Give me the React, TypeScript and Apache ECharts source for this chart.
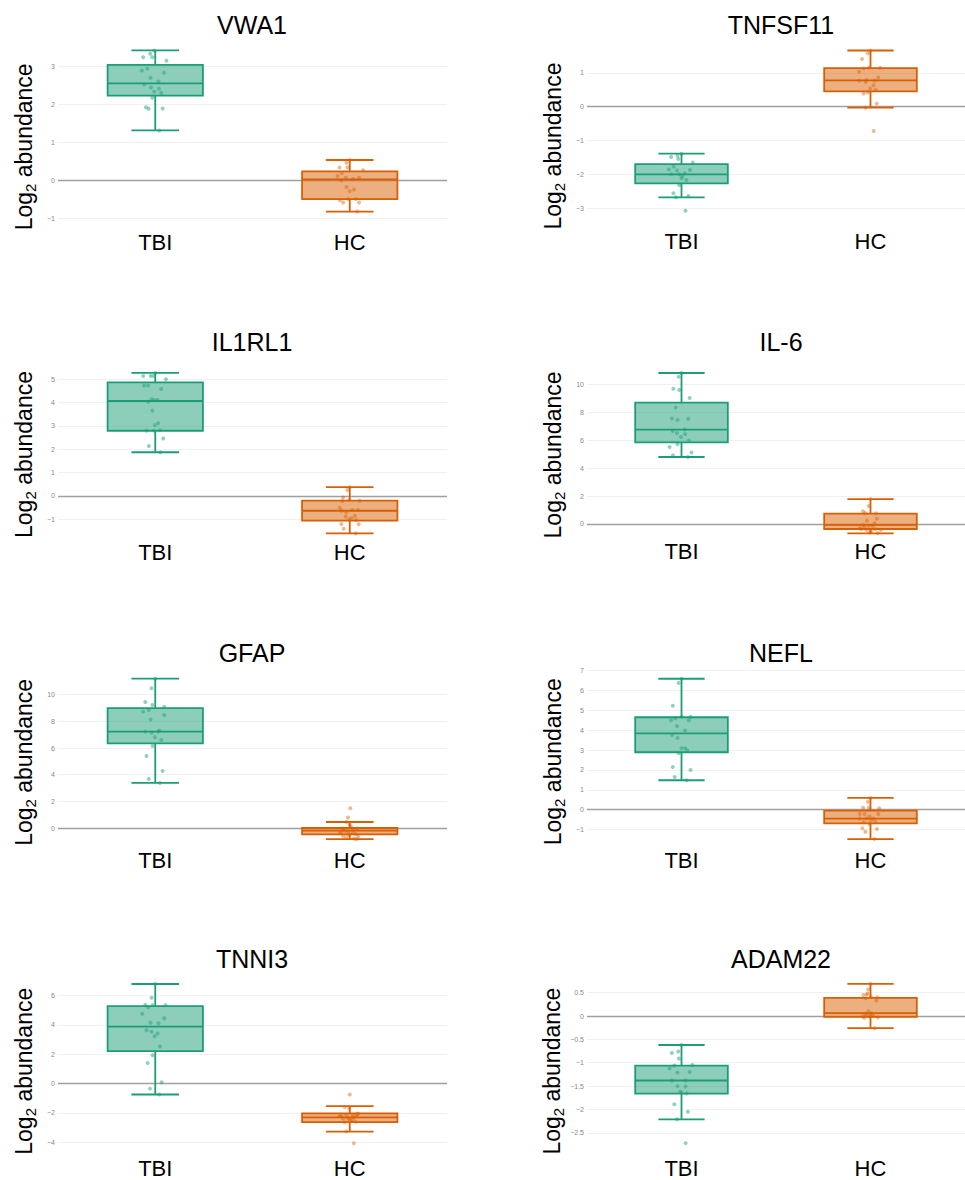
import React, { useEffect, useRef } from 'react';
import * as echarts from 'echarts';

const GROUPS = ['TBI', 'HC'];
const GENES = ['VWA1', 'TNFSF11', 'IL1RL1', 'IL-6', 'GFAP', 'NEFL', 'TNNI3', 'ADAM22'];

// ---- VWA1 ----
const VWA1_TBI = [3.24, 3.33, 3.24, 3.42, 3.15, 2.89, 2.94, 2.83, 2.7, 2.6, 2.52, 2.44, 2.41, 2.33, 2.3, 2.17, 1.92, 1.88, 1.89, 1.31];
const VWA1_TBI_JIT = [-0.062, -0.026, -0.015, -0.005, 0.058, -0.069, -0.041, 0.045, -0.024, 0.017, -0.057, -0.022, 0.019, -0.005, 0.031, -0.015, -0.048, -0.034, 0.038, 0.021];
const VWA1_HC = [0.53, 0.46, 0.33, 0.33, 0.26, 0.19, 0.11, 0.06, 0.03, 0.06, -0.01, -0.18, -0.25, -0.29, -0.53, -0.59, -0.5, -0.5, -0.59, -0.83];
const VWA1_HC_JIT = [0, -0.017, -0.053, -0.012, 0.069, -0.041, -0.063, -0.021, 0.017, 0.048, -0.043, -0.017, 0.022, 0, -0.051, -0.034, -0.009, 0.031, 0.048, 0.038];
const VWA1_TBI_BOX = [1.31, 2.23, 2.55, 3.04, 3.42];
const VWA1_HC_BOX = [-0.83, -0.5, 0.02, 0.23, 0.53];

// ---- TNFSF11 ----
const TNFSF11_TBI = [-1.49, -1.45, -1.55, -1.39, -1.65, -1.77, -1.86, -1.89, -1.87, -2.0, -2.0, -1.97, -2.12, -2.17, -2.32, -2.56, -2.68, -2.64, -3.08, -2.05];
const TNFSF11_TBI_JIT = [-0.055, -0.021, -0.017, 0, 0.06, -0.041, -0.067, -0.024, 0.045, -0.053, -0.012, 0.017, 0, 0.026, -0.012, -0.043, -0.029, 0.036, 0.021, 0.005];
const TNFSF11_HC = [1.58, 1.66, 1.41, 1.03, 1.13, 1.15, 1.15, 0.77, 0.79, 0.73, 0.86, 0.77, 0.63, 0.54, 0.49, 0.39, 0.42, 0.09, -0.03, -0.72];
const TNFSF11_HC_JIT = [-0.014, 0, -0.045, -0.06, -0.036, -0.01, 0.051, -0.06, -0.022, -0.026, 0.041, 0.021, 0.017, -0.002, 0.026, -0.036, -0.014, 0.033, -0.026, 0.017];
const TNFSF11_TBI_BOX = [-2.68, -2.27, -2.0, -1.7, -1.39];
const TNFSF11_HC_BOX = [-0.03, 0.45, 0.78, 1.14, 1.66];

// ---- IL1RL1 ----
const IL1RL1_TBI = [5.13, 5.13, 5.13, 5.26, 4.99, 4.72, 4.72, 4.57, 4.14, 4.03, 4.1, 4.1, 3.65, 3.03, 3.11, 2.79, 2.79, 2.81, 2.46, 2.14, 1.87];
const IL1RL1_TBI_JIT = [-0.062, -0.024, -0.01, 0, 0.055, -0.057, -0.036, 0.031, -0.019, -0.036, -0.005, 0.012, -0.015, -0.002, 0.015, -0.045, -0.007, 0.024, 0.041, -0.033, 0.027];
const IL1RL1_HC = [0.38, 0.26, -0.06, -0.21, -0.17, -0.2, -0.5, -0.63, -0.7, -0.6, -0.6, -0.88, -0.85, -1.0, -1.03, -0.95, -1.2, -1.21, -1.4, -1.6];
const IL1RL1_HC_JIT = [0, -0.012, -0.034, -0.038, -0.003, 0.051, -0.051, -0.043, -0.017, 0.014, 0.043, -0.021, 0.026, -0.003, 0.034, 0.009, -0.043, 0.046, -0.031, 0.031];
const IL1RL1_TBI_BOX = [1.87, 2.79, 4.06, 4.86, 5.26];
const IL1RL1_HC_BOX = [-1.6, -1.05, -0.63, -0.2, 0.38];

// ---- IL-6 ----
const IL6_TBI = [10.84, 10.57, 9.71, 9.62, 9.04, 8.37, 7.58, 7.46, 7.56, 6.79, 6.67, 6.51, 6.46, 6.24, 6.0, 5.72, 5.53, 5.14, 4.93, 4.81];
const IL6_TBI_JIT = [0, -0.015, -0.043, -0.012, 0.043, -0.031, -0.051, -0.021, 0.036, 0.017, -0.046, -0.024, 0.019, -0.003, 0.039, -0.021, -0.063, 0.053, -0.045, 0.034];
const IL6_HC = [1.79, 1.29, 0.91, 0.77, 0.77, 0.24, 0.38, -0.07, -0.12, -0.14, -0.38, -0.43, -0.48, -0.38, -0.43, -0.67, -0.62, -0.24, 0.05, -0.31];
const IL6_HC_JIT = [0, -0.009, -0.039, -0.027, 0.029, -0.019, 0.034, -0.039, -0.009, 0.012, -0.048, -0.022, 0.003, 0.026, 0.055, 0.038, -0.005, -0.031, 0.021, -0.057];
const IL6_TBI_BOX = [4.81, 5.86, 6.77, 8.71, 10.84];
const IL6_HC_BOX = [-0.67, -0.36, -0.07, 0.74, 1.79];

// ---- GFAP ----
const GFAP_TBI = [11.2, 10.48, 9.45, 9.23, 9.1, 8.73, 8.85, 8.48, 8.13, 7.23, 7.15, 7.23, 7.3, 6.8, 6.6, 6.15, 5.4, 4.28, 3.68, 3.38];
const GFAP_TBI_JIT = [0, -0.019, -0.051, -0.015, 0.046, -0.062, -0.033, 0.046, -0.024, -0.051, -0.019, 0.015, 0.021, -0.002, 0.031, -0.014, -0.045, 0.038, -0.033, 0.024];
const GFAP_HC = [1.48, 0.78, 0.45, 0.23, -0.03, -0.1, -0.03, -0.2, -0.28, -0.35, -0.4, -0.45, -0.6, -0.53, -0.65, -0.7, -0.78, -0.85, -0.3, 0.05];
const GFAP_HC_JIT = [0.003, -0.009, -0.017, 0, -0.038, 0.017, 0.038, -0.026, -0.009, 0.014, -0.051, 0.031, -0.034, -0.003, 0.043, -0.017, 0.021, 0.034, -0.043, 0.009];
const GFAP_TBI_BOX = [3.38, 6.35, 7.23, 9.0, 11.2];
const GFAP_HC_BOX = [-0.83, -0.48, -0.2, 0.0, 0.45];

// ---- NEFL ----
const NEFL_TBI = [6.59, 6.38, 5.23, 4.5, 4.6, 4.68, 4.5, 4.68, 4.21, 3.98, 3.76, 3.61, 3.09, 3.09, 2.99, 2.84, 2.15, 2.0, 1.64, 1.48];
const NEFL_TBI_JIT = [0, -0.015, -0.046, -0.055, -0.033, 0.002, 0.039, 0.048, -0.024, 0.019, -0.05, -0.021, 0, 0.019, 0.031, -0.015, -0.046, 0.048, -0.036, 0.027];
const NEFL_HC = [0.59, 0.39, 0.1, 0.1, 0.07, -0.22, -0.22, -0.22, -0.35, -0.45, -0.45, -0.45, -0.55, -0.64, -0.62, -0.72, -0.94, -1.11, -0.97, -1.48];
const NEFL_HC_JIT = [0, -0.014, -0.039, -0.009, 0.046, -0.057, -0.031, 0.041, -0.005, -0.057, -0.022, 0.015, 0.003, -0.036, 0.026, -0.005, -0.043, -0.027, 0.034, 0.021];
const NEFL_TBI_BOX = [1.48, 2.89, 3.84, 4.65, 6.59];
const NEFL_HC_BOX = [-1.48, -0.69, -0.45, -0.05, 0.59];

// ---- TNNI3 ----
const TNNI3_TBI = [6.79, 5.85, 5.37, 5.21, 5.35, 5.35, 4.76, 4.45, 4.15, 4.11, 3.63, 3.54, 3.41, 3.23, 2.53, 1.94, 1.4, 0.09, -0.34, -0.74];
const TNNI3_TBI_JIT = [0, -0.019, -0.051, -0.036, -0.014, 0.053, -0.067, 0.046, -0.024, 0.017, -0.045, -0.019, 0.012, -0.003, 0.024, -0.014, -0.039, 0.033, -0.027, 0.021];
const TNNI3_HC = [-0.74, -1.6, -1.69, -2.08, -2.19, -2.14, -2.14, -2.03, -2.37, -2.32, -2.3, -2.6, -2.64, -2.53, -3.27, -4.06, -2.42, -2.23, -2.46, -2.23];
const TNNI3_HC_JIT = [0, -0.026, -0.003, 0.038, -0.051, -0.017, 0.014, 0.043, -0.034, -0.009, 0.021, 0.031, -0.026, 0.003, -0.017, 0.021, -0.003, -0.043, 0.014, 0.034];
const TNNI3_TBI_BOX = [-0.74, 2.21, 3.88, 5.28, 6.79];
const TNNI3_HC_BOX = [-3.27, -2.62, -2.3, -2.03, -1.53];

// ---- ADAM22 ----
const ADAM22_TBI = [-0.62, -0.79, -0.76, -0.91, -1.06, -1.05, -1.12, -1.21, -1.2, -1.38, -1.38, -1.5, -1.51, -1.64, -1.66, -1.89, -2.05, -2.21, -2.72, -1.62];
const ADAM22_TBI_JIT = [0, -0.051, -0.017, -0.014, -0.038, 0.057, -0.063, -0.021, 0.043, -0.051, 0.021, -0.021, 0.021, 0, 0.027, -0.038, 0.034, -0.024, 0.022, -0.007];
const ADAM22_HC = [0.69, 0.57, 0.45, 0.46, 0.42, 0.4, 0.33, 0.38, 0.1, 0.05, 0.06, -0.01, 0.01, 0.01, -0.03, -0.04, -0.02, -0.26, 0.04, 0.48];
const ADAM22_HC_JIT = [0, -0.012, -0.038, -0.021, 0.002, 0.036, 0.031, -0.026, -0.012, -0.029, 0.005, -0.041, -0.021, 0.014, 0.039, -0.033, -0.003, 0.022, -0.003, -0.015];
const ADAM22_TBI_BOX = [-2.21, -1.66, -1.38, -1.06, -0.62];
const ADAM22_HC_BOX = [-0.26, -0.02, 0.06, 0.39, 0.69];

// ---- y tick values per panel ----
const VWA1_TICKS = [-1, 0, 1, 2, 3];
const TNFSF11_TICKS = [-3, -2, -1, 0, 1];
const IL1RL1_TICKS = [-1, 0, 1, 2, 3, 4, 5];
const IL6_TICKS = [0, 2, 4, 6, 8, 10];
const GFAP_TICKS = [0, 2, 4, 6, 8, 10];
const NEFL_TICKS = [-1, 0, 1, 2, 3, 4, 5, 6, 7];
const TNNI3_TICKS = [-4, -2, 0, 2, 4, 6];
const ADAM22_TICKS = [-2.5, -2, -1.5, -1, -0.5, 0, 0.5];

// ---- y axis ranges per panel ----
const VWA1_RANGE = [-1.21, 3.65];
const TNFSF11_RANGE = [-3.52, 1.9];
const IL1RL1_RANGE = [-1.71, 5.6];
const IL6_RANGE = [-0.84, 11.4];
const GFAP_RANGE = [-1.2, 11.8];
const NEFL_RANGE = [-1.73, 7.05];
const TNNI3_RANGE = [-4.66, 7.3];
const ADAM22_RANGE = [-2.91, 0.85];

const PANELS = [
  { tbi: VWA1_TBI, tbiJit: VWA1_TBI_JIT, hc: VWA1_HC, hcJit: VWA1_HC_JIT, tbiBox: VWA1_TBI_BOX, hcBox: VWA1_HC_BOX, ticks: VWA1_TICKS, range: VWA1_RANGE },
  { tbi: TNFSF11_TBI, tbiJit: TNFSF11_TBI_JIT, hc: TNFSF11_HC, hcJit: TNFSF11_HC_JIT, tbiBox: TNFSF11_TBI_BOX, hcBox: TNFSF11_HC_BOX, ticks: TNFSF11_TICKS, range: TNFSF11_RANGE },
  { tbi: IL1RL1_TBI, tbiJit: IL1RL1_TBI_JIT, hc: IL1RL1_HC, hcJit: IL1RL1_HC_JIT, tbiBox: IL1RL1_TBI_BOX, hcBox: IL1RL1_HC_BOX, ticks: IL1RL1_TICKS, range: IL1RL1_RANGE },
  { tbi: IL6_TBI, tbiJit: IL6_TBI_JIT, hc: IL6_HC, hcJit: IL6_HC_JIT, tbiBox: IL6_TBI_BOX, hcBox: IL6_HC_BOX, ticks: IL6_TICKS, range: IL6_RANGE },
  { tbi: GFAP_TBI, tbiJit: GFAP_TBI_JIT, hc: GFAP_HC, hcJit: GFAP_HC_JIT, tbiBox: GFAP_TBI_BOX, hcBox: GFAP_HC_BOX, ticks: GFAP_TICKS, range: GFAP_RANGE },
  { tbi: NEFL_TBI, tbiJit: NEFL_TBI_JIT, hc: NEFL_HC, hcJit: NEFL_HC_JIT, tbiBox: NEFL_TBI_BOX, hcBox: NEFL_HC_BOX, ticks: NEFL_TICKS, range: NEFL_RANGE },
  { tbi: TNNI3_TBI, tbiJit: TNNI3_TBI_JIT, hc: TNNI3_HC, hcJit: TNNI3_HC_JIT, tbiBox: TNNI3_TBI_BOX, hcBox: TNNI3_HC_BOX, ticks: TNNI3_TICKS, range: TNNI3_RANGE },
  { tbi: ADAM22_TBI, tbiJit: ADAM22_TBI_JIT, hc: ADAM22_HC, hcJit: ADAM22_HC_JIT, tbiBox: ADAM22_TBI_BOX, hcBox: ADAM22_HC_BOX, ticks: ADAM22_TICKS, range: ADAM22_RANGE },
];

// ---- layout (pixels) ----
const GRID_LEFT = [58, 587, 58, 587, 58, 587, 58, 587];
const GRID_WIDTH = [389, 390, 389, 390, 389, 390, 389, 390];
const GRID_TOP = [41.7, 42.4, 365, 365.2, 670.7, 669.6, 976.5, 976.3];
const GRID_BOTTOM = [226, 225.7, 536, 535.7, 844, 844, 1153, 1153];
const TITLE_X = [252, 781, 252, 781, 252, 781, 252, 781];
const TITLE_Y = [25, 25, 342, 342, 653, 653, 959, 959];
// downward shift (px) of the y-axis title relative to the plot's vertical centre
const NAME_SHIFT = [13, 12, 4, 4.5, 5, 5, 7, 7];

const LINE_COLORS = ['#1b9e77', '#d95f02'];
const FILL_COLORS = ['rgba(27,158,119,0.5)', 'rgba(217,95,2,0.5)'];
const POINT_COLORS = ['rgba(27,158,119,0.6)', 'rgba(217,95,2,0.55)'];
const FONT = '"Liberation Sans", Arial, Helvetica, sans-serif';

function renderBox(params: any, api: any) {
  const idx = api.value(0);
  const lo = api.coord([idx, api.value(1)]);
  const q1 = api.coord([idx, api.value(2)]);
  const med = api.coord([idx, api.value(3)]);
  const q3 = api.coord([idx, api.value(4)]);
  const hi = api.coord([idx, api.value(5)]);
  const band = api.size([1, 0])[0];
  const bw = band * 0.49;
  const cw = bw / 2;
  const x = lo[0];
  const stroke = LINE_COLORS[idx];
  const ls = { stroke, lineWidth: 1.8, fill: null };
  return {
    type: 'group',
    children: [
      { type: 'line', shape: { x1: x, y1: q3[1], x2: x, y2: hi[1] }, style: ls },
      { type: 'line', shape: { x1: x, y1: lo[1], x2: x, y2: q1[1] }, style: ls },
      { type: 'line', shape: { x1: x - cw / 2, y1: hi[1], x2: x + cw / 2, y2: hi[1] }, style: ls },
      { type: 'line', shape: { x1: x - cw / 2, y1: lo[1], x2: x + cw / 2, y2: lo[1] }, style: ls },
      {
        type: 'rect',
        shape: { x: x - bw / 2, y: q3[1], width: bw, height: q1[1] - q3[1] },
        style: { fill: FILL_COLORS[idx], stroke, lineWidth: 1.8 },
      },
      { type: 'line', shape: { x1: x - bw / 2, y1: med[1], x2: x + bw / 2, y2: med[1] }, style: ls },
    ],
  };
}

function fmtTick(v: number) {
  return v < 0 ? '\u2212' + Math.abs(v) : String(v);
}

function buildOption() {
  const grid: any[] = [];
  const xAxis: any[] = [];
  const yAxis: any[] = [];
  const series: any[] = [];
  const graphic: any[] = [];

  PANELS.forEach((p, i) => {
    grid.push({
      left: GRID_LEFT[i],
      top: GRID_TOP[i],
      width: GRID_WIDTH[i],
      height: GRID_BOTTOM[i] - GRID_TOP[i],
      containLabel: false,
    });
    xAxis.push({
      gridIndex: i,
      type: 'category',
      data: GROUPS,
      boundaryGap: true,
      axisLine: { show: false },
      axisTick: { show: false },
      splitLine: { show: false },
      axisLabel: { fontSize: 22, color: '#000', fontFamily: FONT, margin: 4, lineHeight: 24 },
    });
    xAxis.push({ gridIndex: i, type: 'value', min: -0.5, max: 1.5, show: false });
    yAxis.push({
      gridIndex: i,
      type: 'value',
      min: p.range[0],
      max: p.range[1],
      axisLine: { show: false },
      axisTick: { show: false, customValues: p.ticks },
      axisLabel: { customValues: p.ticks, fontSize: 7, color: '#888', margin: 3, fontFamily: FONT, formatter: fmtTick },
      splitLine: { show: true, lineStyle: { color: '#f0f0f0', width: 1 } },
      name: '{a|Log}{b|2}{a| abundance}',
      nameLocation: 'middle',
      nameGap: 20,
      nameTextStyle: {
        padding: [0, NAME_SHIFT[i] * 2, 0, 0],
        rich: {
          a: { fontSize: 23, fontFamily: FONT, color: '#000', lineHeight: 28 },
          b: { fontSize: 15, fontFamily: FONT, color: '#000', lineHeight: 15, verticalAlign: 'bottom' },
        },
      },
    });
    const xi = i * 2;
    series.push({
      type: 'custom',
      xAxisIndex: xi,
      yAxisIndex: i,
      z: 2,
      renderItem: renderBox,
      encode: { x: 0, y: [1, 2, 3, 4, 5] },
      data: [
        [0, ...p.tbiBox],
        [1, ...p.hcBox],
      ],
      markLine: {
        silent: true,
        symbol: 'none',
        z: 1,
        label: { show: false },
        lineStyle: { color: '#a0a0a0', width: 1.4, type: 'solid' },
        data: [{ yAxis: 0 }],
      },
    });
    series.push({
      type: 'scatter',
      xAxisIndex: xi + 1,
      yAxisIndex: i,
      z: 3,
      symbolSize: 4,
      itemStyle: { color: POINT_COLORS[0] },
      data: p.tbi.map((v, k) => [0 + p.tbiJit[k], v]),
    });
    series.push({
      type: 'scatter',
      xAxisIndex: xi + 1,
      yAxisIndex: i,
      z: 3,
      symbolSize: 4,
      itemStyle: { color: POINT_COLORS[1] },
      data: p.hc.map((v, k) => [1 + p.hcJit[k], v]),
    });
    graphic.push({
      type: 'text',
      x: TITLE_X[i],
      y: TITLE_Y[i],
      style: {
        text: GENES[i],
        fontSize: 25,
        fontFamily: FONT,
        fill: '#000',
        align: 'center',
        verticalAlign: 'middle',
        textAlign: 'center',
        textVerticalAlign: 'middle',
      },
    });
  });

  return {
    animation: false,
    backgroundColor: '#fff',
    grid,
    xAxis,
    yAxis,
    series,
    graphic,
  };
}

export default function App() {
  const ref = useRef<HTMLDivElement>(null);
  useEffect(() => {
    if (!ref.current) return;
    const chart = echarts.init(ref.current, undefined, { renderer: 'svg' });
    chart.setOption(buildOption() as any);
    return () => chart.dispose();
  }, []);
  return (
    <div
      ref={ref}
      style={{ position: 'absolute', left: 0, top: 0, width: 965, height: 1180, background: '#fff' }}
    />
  );
}
